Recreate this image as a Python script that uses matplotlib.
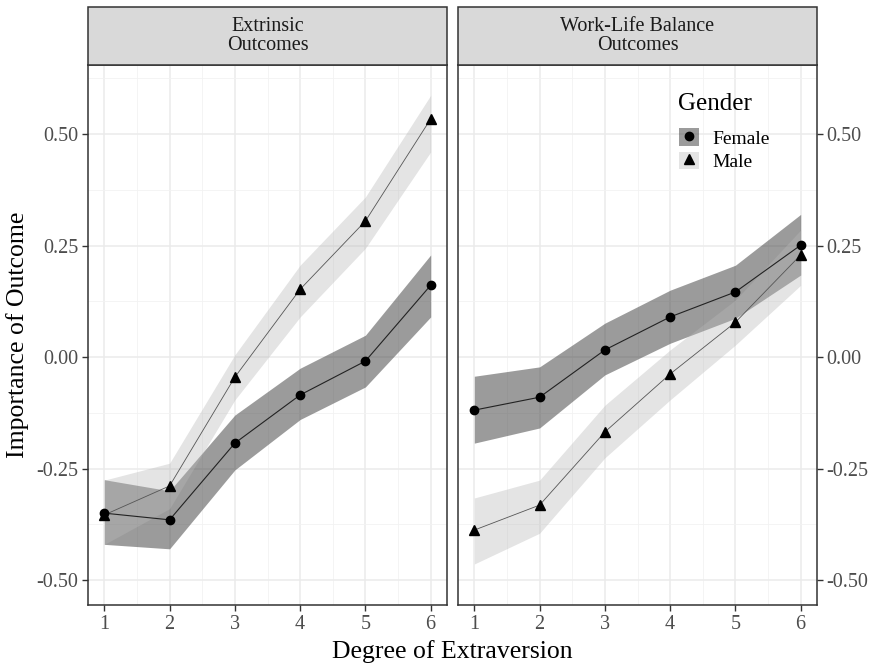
import matplotlib
matplotlib.use("Agg")
import matplotlib.pyplot as plt
from matplotlib.patches import Patch, Rectangle
from matplotlib.lines import Line2D
from matplotlib.legend_handler import HandlerTuple
import numpy as np

plt.rcParams['font.family'] = ['Liberation Serif', 'DejaVu Serif']

degree = [1, 2, 3, 4, 5, 6]
panels = ["Extrinsic\nOutcomes", "Work-Life Balance\nOutcomes"]

# Extrinsic
ext_female = [-0.350, -0.365, -0.193, -0.085, -0.009, 0.161]
ext_female_lo = [-0.420, -0.430, -0.253, -0.140, -0.067, 0.090]
ext_female_hi = [-0.275, -0.300, -0.130, -0.025, 0.049, 0.229]
ext_male = [-0.354, -0.289, -0.045, 0.152, 0.305, 0.534]
ext_male_lo = [-0.420, -0.340, -0.096, 0.090, 0.244, 0.460]
ext_male_hi = [-0.276, -0.238, 0.005, 0.206, 0.359, 0.587]

# Work-life balance
wlb_female = [-0.119, -0.090, 0.016, 0.090, 0.146, 0.251]
wlb_female_lo = [-0.193, -0.159, -0.040, 0.031, 0.087, 0.184]
wlb_female_hi = [-0.043, -0.022, 0.076, 0.150, 0.206, 0.320]
wlb_male = [-0.388, -0.332, -0.168, -0.038, 0.078, 0.229]
wlb_male_lo = [-0.464, -0.395, -0.226, -0.096, 0.027, 0.161]
wlb_male_hi = [-0.316, -0.276, -0.108, 0.016, 0.128, 0.285]

yticks = [-0.50, -0.25, 0.00, 0.25, 0.50]
ytick_labels = ["-0.50", "-0.25", "0.00", "0.25", "0.50"]

data = [
    (ext_female, ext_female_lo, ext_female_hi, ext_male, ext_male_lo, ext_male_hi),
    (wlb_female, wlb_female_lo, wlb_female_hi, wlb_male, wlb_male_lo, wlb_male_hi),
]

fig = plt.figure(figsize=(8.75, 6.69), dpi=100)
W, H = 875, 669
bottom = 1 - 605 / H
top = 1 - 65 / H
lefts = [88 / W, 458 / W]
width = (447 - 88) / W

female_fill = (0.25, 0.25, 0.25, 0.52)
male_fill = (0.72, 0.72, 0.72, 0.38)

axes = []
for i, (title, d) in enumerate(zip(panels, data)):
    ax = fig.add_axes([lefts[i], bottom, width, top - bottom])
    axes.append(ax)
    f, flo, fhi, m, mlo, mhi = d
    ax.fill_between(degree, flo, fhi, color=female_fill, lw=0, zorder=2)
    ax.fill_between(degree, mlo, mhi, color=male_fill, lw=0, zorder=2)
    ax.plot(degree, f, color='#222222', lw=0.8, zorder=3)
    ax.plot(degree, m, color='#555555', lw=0.6, zorder=3)
    ax.plot(degree, f, 'o', color='black', ms=6, zorder=4)
    ax.plot(degree, m, '^', color='black', ms=7, zorder=4)
    ax.set_xlim(0.75, 6.25)
    ax.set_ylim(-0.556, 0.655)
    ax.set_xticks(degree)
    ax.set_xticks(np.arange(1.5, 6.0, 1.0), minor=True)
    ax.set_yticks(yticks)
    ax.set_yticks([-0.375, -0.125, 0.125, 0.375, 0.625], minor=True)
    ax.set_yticklabels(ytick_labels)
    ax.grid(True, which='major', color='#ebebeb', lw=1.1, zorder=0)
    ax.grid(True, which='minor', color='#f2f2f2', lw=0.6, zorder=0)
    ax.set_axisbelow(True)
    for s in ax.spines.values():
        s.set_color('#333333')
        s.set_linewidth(1.1)
    ax.tick_params(axis='both', which='major', labelsize=14.5, colors='#333333',
                   labelcolor='#4d4d4d', length=4, width=1.0, pad=3)
    ax.tick_params(axis='both', which='minor', length=0)
    if i == 1:
        ax.yaxis.tick_right()
        ax.tick_params(axis='y', which='both', labelleft=False, labelright=True)
    # strip
    sx = lefts[i]
    strip = Rectangle((sx, top), width, 58 / H, transform=fig.transFigure,
                      facecolor='#d9d9d9', edgecolor='#333333', lw=1.1, zorder=1)
    fig.patches.append(strip)
    fig.text(sx + width / 2, top + 29 / H, title, ha='center', va='center',
             fontsize=14.5, color='#1a1a1a', linespacing=1.05)

fig.text(0.5 * (lefts[0] + lefts[1] + width), 1 - 652 / H, "Degree of Extraversion",
         ha='center', va='center', fontsize=18.5)
fig.text(18 / W, (bottom + top) / 2, "Importance of Outcome", rotation=90,
         ha='center', va='center', fontsize=18.5)

# legend
fig.text(678 / W, 1 - 104 / H, "Gender", ha='left', va='center', fontsize=18)
h_f = (Patch(facecolor=female_fill, edgecolor='none'),
       Line2D([], [], marker='o', color='black', ls='none', ms=6))
h_m = (Patch(facecolor=male_fill, edgecolor='none'),
       Line2D([], [], marker='^', color='black', ls='none', ms=7))
leg = fig.legend([h_f, h_m], ["Female", "Male"],
                 handler_map={tuple: HandlerTuple(ndivide=1, pad=0)},
                 loc='upper left', bbox_to_anchor=(672 / W, 1 - 121 / H),
                 bbox_transform=fig.transFigure,
                 frameon=False, fontsize=14,
                 handlelength=1.02, handleheight=1.02, handletextpad=0.7,
                 labelspacing=0.2, borderaxespad=0, borderpad=0.37)

fig.savefig("out.png", dpi=100)
